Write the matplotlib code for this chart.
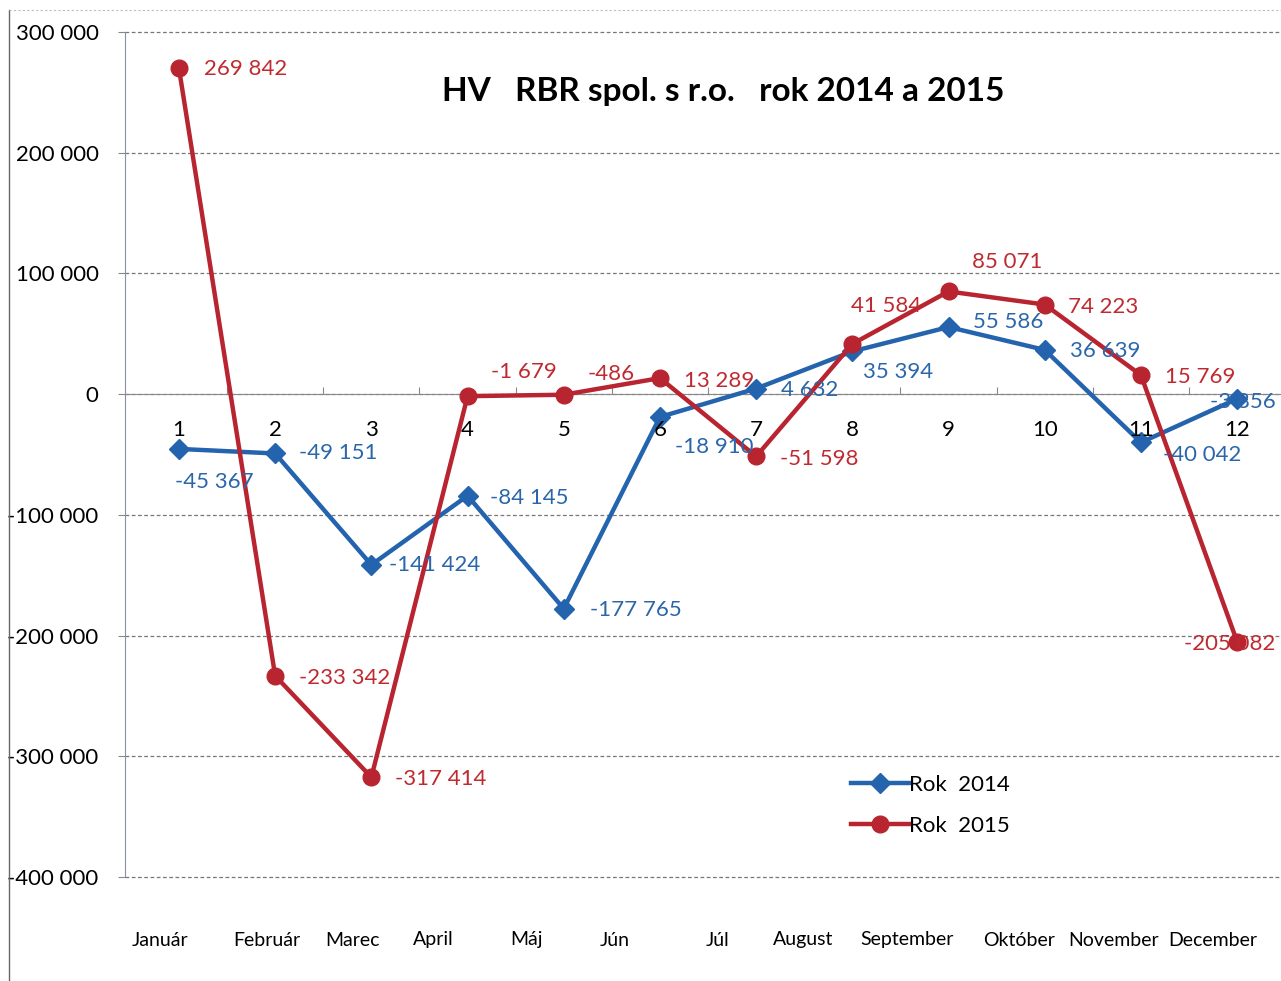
import matplotlib.pyplot as plt
from matplotlib.lines import Line2D

plt.rcParams['font.family'] = ['Lato', 'DejaVu Sans']

# data
months = ['Január', 'Február', 'Marec', 'April', 'Máj', 'Jún',
          'Júl', 'August', 'September', 'Október', 'November', 'December']
cats = [1, 2, 3, 4, 5, 6, 7, 8, 9, 10, 11, 12]
rok2014 = [-45367, -49151, -141424, -84145, -177765, -18910,
           4632, 35394, 55586, 36639, -40042, -3856]
rok2015 = [269842, -233342, -317414, -1679, -486, 13289,
           -51598, 41584, 85071, 74223, 15769, -205082]
yticks = [300000, 200000, 100000, 0, -100000, -200000, -300000, -400000]

# label offsets in pixels (dx, dy), ha
off2014 = [(-4, -33, 'left'), (24, 0, 'left'), (18, 0, 'left'), (22, -2, 'left'),
           (26, -1, 'left'), (15, -30, 'left'), (25, -1, 'left'), (11, -21, 'left'),
           (24, 5, 'left'), (25, -1, 'left'), (22, -13, 'left'), (6, -3, 'center')]
off2015 = [(25, -1, 'left'), (24, -2, 'left'), (24, -2, 'left'), (23, 24, 'left'),
           (24, 21, 'left'), (24, -3, 'left'), (24, -3, 'left'), (34, 38, 'center'),
           (59, 29, 'center'), (23, -2, 'left'), (24, -2, 'left'), (-7, -2, 'center')]
# month label x positions in pixels
month_px = [160, 267, 352, 433, 527, 615, 718, 803, 907, 1019, 1114, 1213]

blue = '#2463ad'
red = '#b8242f'
blue_t = '#2a66aa'
red_t = '#bf2a30'

W, H = 1281, 981
fig = plt.figure(figsize=(12.81, 9.81), dpi=100)
ax = fig.add_axes([125 / W, (H - 877) / H, (W - 125) / W, 845 / H])

ax.plot(cats, rok2014, color=blue, lw=3.2, marker='D', ms=10, label='Rok  2014', zorder=3)
ax.plot(cats, rok2015, color=red, lw=3.2, marker='o', ms=12, label='Rok  2015', zorder=4)

for x, y, (dx, dy, ha) in zip(cats, rok2014, off2014):
    ax.annotate(f'{y:,}'.replace(',', ' '), (x, y), xytext=(dx, dy), textcoords='offset pixels',
                ha=ha, va='center', fontsize=16, color=blue_t, zorder=5)
for x, y, (dx, dy, ha) in zip(cats, rok2015, off2015):
    ax.annotate(f'{y:,}'.replace(',', ' '), (x, y), xytext=(dx, dy), textcoords='offset pixels',
                ha=ha, va='center', fontsize=16, color=red_t, zorder=5)

# category numbers under zero line
for c in cats:
    ax.annotate(str(c), (c, 0), xytext=(0, -36), textcoords='offset pixels',
                ha='center', va='center', fontsize=16, color='black')

ax.set_xlim(0.439, 12.456)
ax.set_ylim(-400000, 300000)
ax.set_yticks(yticks)
ax.set_yticklabels([f'{v:,}'.replace(',', ' ') for v in yticks], fontsize=16)
for v in yticks:
    ax.axhline(v, linestyle=(0, (3, 2)), color='#777777', lw=0.9, clip_on=False, zorder=1)
ax.tick_params(axis='y', length=5, color='#888888', pad=14)

ax.spines['bottom'].set_position(('data', 0))
ax.spines['bottom'].set_color('#888888')
ax.spines['top'].set_visible(False)
ax.spines['right'].set_visible(False)
ax.spines['left'].set_color('#8890a8')
ax.set_xticks([c + 0.5 for c in cats[:-1]])
ax.set_xticklabels([])
ax.tick_params(axis='x', direction='in', length=5, color='#888888')

fig.text(723 / W, 1 - 91 / H, 'HV   RBR spol. s r.o.   rok 2014 a 2015', fontsize=24,
         fontweight='bold', ha='center', va='center')

for name, px in zip(months, month_px):
    fig.text(px / W, 1 - 940 / H, name, ha='center', va='center', fontsize=14)

leg = ax.legend(loc='upper left', bbox_to_anchor=((842 - 125) / (W - 125), 1 - (766 - 32) / 845),
                frameon=False, fontsize=16, handlelength=2.6, handletextpad=0.0,
                labelspacing=0.95, borderaxespad=0)

# outer frame of the chart area
fig.add_artist(Line2D([9 / W, 9 / W], [0, 1 - 10 / H], color='#666666', lw=1))
fig.add_artist(Line2D([9 / W, 1], [1 - 10 / H, 1 - 10 / H], color='#bbbbbb', lw=0.8,
                      linestyle=(0, (2, 2))))

fig.savefig('out.png', dpi=100)
